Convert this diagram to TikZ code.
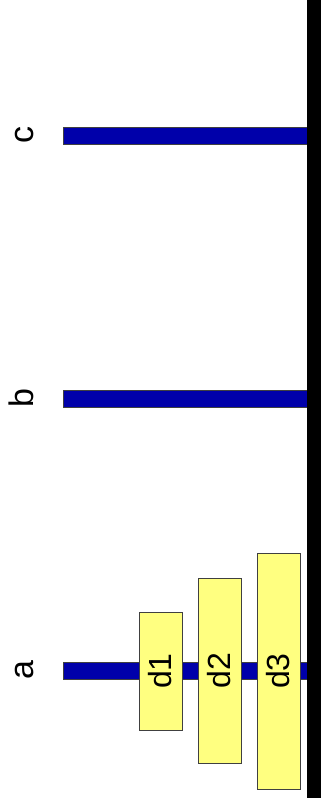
\documentclass[tikz,border=0pt]{standalone}
\usepackage{fontspec}
\setmainfont{Liberation Sans}
\definecolor{pegblue}{RGB}{0,0,170}
\definecolor{diskyellow}{RGB}{255,255,128}

\begin{document}
\begin{tikzpicture}[
  x=1pt, y=-1pt,
  peg/.style={draw=black!75, fill=pegblue, minimum width=244pt, minimum height=17pt, inner sep=0pt},
  disk/.style={draw=black!75, fill=diskyellow, rotate=90, minimum height=43pt, inner sep=0pt, font=\fontsize{32}{38}\selectfont},
  lbl/.style={rotate=90, anchor=base, inner sep=0pt, font=\fontsize{34}{40}\selectfont},
  ground/.style={fill=black, minimum width=14pt, minimum height=798pt, inner sep=0pt}
]
\useasboundingbox (0,0) rectangle (321,805);
% pegs
\node[peg] (pega) at (185,670.5) {};
\node[peg] (pegb) at (185,398.5) {};
\node[peg] (pegc) at (185,135.5) {};
\node[lbl] (la) at (33,670.5) {a};
\node[lbl] (lb) at (33,398.5) {b};
\node[lbl] (lc) at (33,135.5) {c};
% disks on peg a
\node[disk, minimum width=118pt] (d1) at (160.5,671) {d1};
\node[disk, minimum width=185pt] (d2) at (219.5,670.5) {d2};
\node[disk, minimum width=236pt] (d3) at (278.5,671) {d3};
% base
\node[ground] (base) at (314,399) {};
\end{tikzpicture}
\end{document}
